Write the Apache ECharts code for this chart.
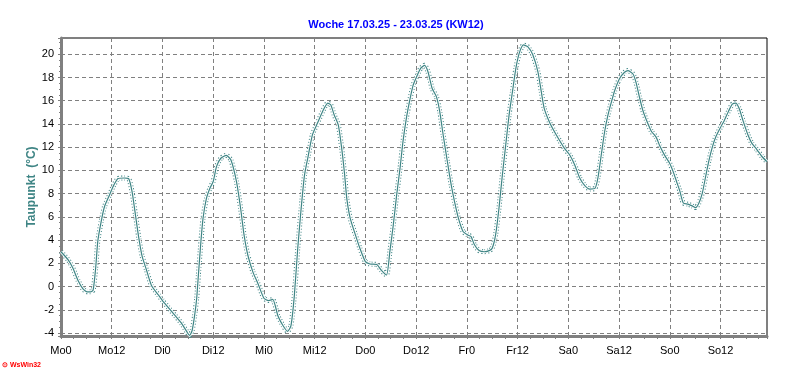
<!DOCTYPE html>
<html>
<head>
<meta charset="utf-8">
<script src="https://cdn.jsdelivr.net/npm/echarts@6/dist/echarts.min.js"></script>
<style>
html,body{margin:0;padding:0;background:#fff;}
#c{width:792px;height:387px;}
</style>
</head>
<body>
<div id="c"></div>
<script>
// Hours since Monday 00:00
const hours = [0,1.7,2.8,4,5.2,6.2,7,7.6,8.2,8.7,9.5,10.3,11.5,12.3,13.5,15,16,16.8,17.6,18.4,19.2,20.2,21.4,23,24,25.4,27,28.6,29.8,30.4,31,31.6,32.1,32.5,33.1,33.6,34.4,35.2,36,36.8,37.8,39.1,40.2,41.5,42.5,43.3,44.2,45.4,46.6,48,49.1,50.1,51.3,52.5,53.6,54.4,55.2,56,56.8,57.6,58.5,59.5,60.7,61.9,63.1,63.8,64.6,65.6,66.4,67.1,67.6,68.4,69.6,70.7,72,73.1,74.7,75.8,77,77.8,78.6,79.4,80.2,80.9,81.7,82.5,83.3,84.1,85.1,86,86.8,87.8,88.8,89.6,90.4,91.4,92.3,93.1,94,95.1,96.2,97,97.8,98.9,100.1,101.3,102,102.8,103.6,104.4,105.2,106,106.8,107.6,108.4,109.4,110.4,111.6,112.8,113.6,114.3,115.5,116.7,117.9,119.1,120.3,121.5,122.7,123.9,125.1,126.3,127,127.8,128.6,129.4,130.2,131,132.1,133.3,134.1,135.3,136,136.8,137.6,138.4,139.6,140.8,141.6,142.8,144,144.8,145.6,146.4,147.2,148.3,149.3,150.1,150.9,151.7,152.5,153.3,154.1,154.9,156,156.9,157.9,158.8,159.6,160.4,161.4,162.5,163.4,164.6,165.8,167];
// Dew point (°C)
const dewpoint = [3.0,2.3,1.6,0.55,-0.2,-0.45,-0.45,-0.3,1.6,3.9,5.6,6.9,7.9,8.6,9.3,9.35,9.3,8.2,6.2,4.2,2.6,1.45,0.1,-0.7,-1.2,-1.8,-2.5,-3.2,-3.9,-4.2,-3.8,-2.5,-1.0,1.0,3.9,5.9,7.6,8.45,9.05,10.35,11.05,11.3,10.9,9.05,6.7,4.45,2.7,1.25,0.25,-1.0,-1.2,-1.1,-2.5,-3.35,-3.85,-3.35,-0.75,3.3,6.7,9.6,11.3,13.1,14.1,15.1,15.8,15.65,14.8,13.9,11.9,9.6,7.6,5.9,4.5,3.3,2.15,1.95,1.9,1.4,1.0,3.05,5.3,7.9,10.2,12.5,14.5,16.05,17.35,18.05,18.8,19.05,18.5,17.05,16.35,15.05,13.05,10.75,8.75,7.3,5.9,4.75,4.45,4.3,3.6,3.1,3.0,3.1,3.3,4.45,6.75,9.6,12.2,14.8,16.8,18.8,20.1,20.8,20.65,19.95,18.5,16.8,15.35,14.2,13.35,12.6,11.9,11.35,10.5,9.35,8.7,8.4,8.45,9.35,11.35,13.35,14.8,15.9,16.9,17.9,18.45,18.6,18.3,17.6,16.35,15.2,14.4,13.4,12.85,12.15,11.3,10.6,9.9,9.05,8.2,7.2,7.1,6.95,6.8,7.2,8.05,9.5,10.9,12.05,12.9,13.7,14.3,15.1,15.7,15.8,15.35,14.2,13.05,12.35,11.8,11.2,10.75];
const xTickLabels = ['Mo0','Mo12','Di0','Di12','Mi0','Mi12','Do0','Do12','Fr0','Fr12','Sa0','Sa12','So0','So12'];
const titleText = 'Woche 17.03.25 - 23.03.25 (KW12)';
const yAxisName = 'Taupunkt  (°C)';

const pts = hours.map((h, i) => [h, dewpoint[i]]);
const teal = '#3f8585';
const chart = echarts.init(document.getElementById('c'), null, {renderer: 'canvas'});
const font = 'Liberation Sans, Arial, sans-serif';
chart.setOption({
  backgroundColor: '#ffffff',
  animation: false,
  title: {
    text: titleText, left: 'center', top: 14,
    textStyle: {color: '#0000ff', fontSize: 11, fontWeight: 'bold', fontFamily: font}
  },
  graphic: [{
    type: 'text', left: 2, top: 362,
    style: {text: '⊙ WsWin32', fill: '#ff0000', font: 'bold 7px ' + font}
  }],
  grid: {left: 61, right: 25, top: 38, bottom: 51, show: true, borderColor: '#000', borderWidth: 1, backgroundColor: 'transparent'},
  xAxis: {
    type: 'value', min: 0, max: 167, interval: 12,
    axisLine: {show: true, onZero: false, lineStyle: {color: '#808080', width: 3}},
    axisTick: {show: true, length: 3, lineStyle: {color: '#808080'}},
    minorTick: {show: true, splitNumber: 4, length: 3, lineStyle: {color: '#808080'}},
    splitLine: {show: true, lineStyle: {color: '#808080', type: [4, 3], width: 1}},
    axisLabel: {
      color: '#000', fontSize: 11, fontFamily: font, margin: 9,
      showMaxLabel: false,
      formatter: v => (v % 12 === 0 ? (xTickLabels[v / 12] || '') : '')
    }
  },
  yAxis: {
    type: 'value', min: -4.25, max: 21.4, splitNumber: 12, minInterval: 2, maxInterval: 2,
    name: yAxisName, nameLocation: 'middle', nameGap: 23, nameRotate: 90, nameMoveOverlap: false,
    nameTextStyle: {color: teal, fontSize: 12, fontWeight: 'bold', fontFamily: font},
    axisLine: {show: true, onZero: false, lineStyle: {color: '#808080', width: 3}},
    axisTick: {show: true, length: 3, lineStyle: {color: '#808080'}},
    minorTick: {show: true, splitNumber: 4, length: 2, lineStyle: {color: '#808080'}},
    splitLine: {show: true, lineStyle: {color: '#808080', type: [4, 3], width: 1}},
    axisLabel: {
      color: '#000', fontSize: 11, fontFamily: font, margin: 7,
      showMinLabel: false, showMaxLabel: false,
      formatter: v => (Number.isInteger(v) ? String(v) : '')
    }
  },
  series: [
    {type: 'line', data: pts, showSymbol: false, smooth: 0.2, z: 3,
     lineStyle: {color: teal, width: 5, type: [1, 2]}},
    {type: 'line', data: pts, showSymbol: false, smooth: 0.2, z: 4,
     lineStyle: {color: '#ffffff', width: 3}},
    {type: 'line', data: pts, showSymbol: false, smooth: 0.2, z: 5,
     lineStyle: {color: teal, width: 1.2}}
  ]
});
</script>
</body>
</html>
